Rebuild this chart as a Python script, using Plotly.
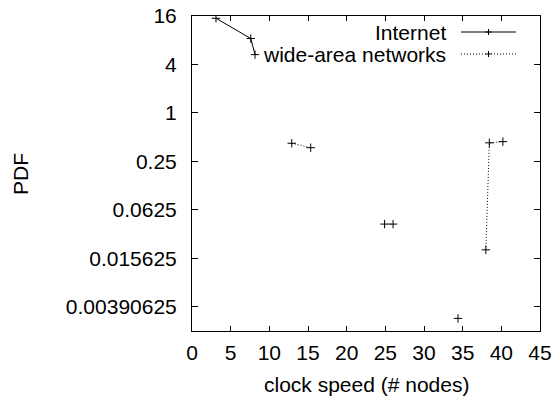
import plotly.graph_objects as go
import math

# Data
internet_x = [3.1, 7.6, 8.15]
internet_y = [15.0, 8.4, 5.3]

wan_x = [12.9, 15.35, None, 24.9, 26.0, None, 34.4, None, 38.0, 38.45, 40.2]
wan_y = [0.42, 0.37, None, 0.0416, 0.0416, None, 0.0028, None, 0.0199, 0.425, 0.44]

y_tickvals = [16, 4, 1, 0.25, 0.0625, 0.015625, 0.00390625]
y_ticktext = ["16", "4", "1", "0.25", "0.0625", "0.015625", "0.00390625"]
x_tickvals = [0, 5, 10, 15, 20, 25, 30, 35, 40, 45]

series_names = ["Internet", "wide-area networks"]
x_title = "clock speed (# nodes)"
y_title = "PDF"

FONT = "Liberation Sans, Arial, Helvetica, sans-serif"
FS = 21

fig = go.Figure()
fig.add_trace(go.Scatter(
    x=internet_x, y=internet_y, mode="lines+markers", name=series_names[0],
    line=dict(color="black", width=1),
    marker=dict(symbol="cross-thin", size=6, line=dict(color="black", width=1)),
    showlegend=False,
))
fig.add_trace(go.Scatter(
    x=wan_x, y=wan_y, mode="lines+markers", name=series_names[1],
    line=dict(color="black", width=1, dash="1px,2px"),
    marker=dict(symbol="cross-thin", size=6, line=dict(color="black", width=1)),
    connectgaps=False, showlegend=False,
))

L, R, T, B = 192, 14, 16, 67
W, H = 554, 398
pw, ph = W - L - R, H - T - B

def px_x(p):
    return (p - L) / pw

def px_y(p):
    return (H - B - p) / ph

# custom gnuplot-style legend
legend_rows = [(32, "solid"), (54, "1px,2px")]
shapes = []
annotations = []
for (ypx, dash), name in zip(legend_rows, series_names):
    yy = px_y(ypx)
    shapes.append(dict(type="line", xref="paper", yref="paper",
                       x0=px_x(461), x1=px_x(516), y0=yy, y1=yy,
                       line=dict(color="black", width=1, dash=dash)))
    shapes.append(dict(type="line", xref="paper", yref="paper",
                       x0=px_x(488.5), x1=px_x(488.5), y0=px_y(ypx - 3), y1=px_y(ypx + 3),
                       line=dict(color="black", width=1)))
    shapes.append(dict(type="line", xref="paper", yref="paper",
                       x0=px_x(485.5), x1=px_x(491.5), y0=yy, y1=yy,
                       line=dict(color="black", width=1)))
    annotations.append(dict(xref="paper", yref="paper", x=px_x(448), y=yy,
                            xanchor="right", yanchor="middle", text=name,
                            showarrow=False, font=dict(family=FONT, size=FS, color="black")))

annotations.append(dict(xref="paper", yref="paper", x=px_x(366), y=px_y(384),
                        xanchor="center", yanchor="middle", text=x_title,
                        showarrow=False, font=dict(family=FONT, size=FS, color="black")))
annotations.append(dict(xref="paper", yref="paper", x=px_x(20), y=px_y(174),
                        xanchor="center", yanchor="middle", text=y_title, textangle=-90,
                        showarrow=False, font=dict(family=FONT, size=FS, color="black")))

fig.update_layout(
    width=W, height=H,
    margin=dict(l=L, r=R, t=T, b=B, pad=0, autoexpand=False),
    paper_bgcolor="white", plot_bgcolor="white",
    font=dict(family=FONT, size=FS, color="black"),
    shapes=shapes, annotations=annotations,
    xaxis=dict(range=[0, 45], tickvals=x_tickvals, ticks="inside", ticklen=5,
               tickcolor="black", showline=True, linecolor="black", linewidth=1,
               mirror="ticks", showgrid=False, zeroline=False, automargin=False,
               ticklabelstandoff=3),
    yaxis=dict(type="log", range=[math.log10(2 ** -9), math.log10(16)],
               tickvals=y_tickvals, ticktext=y_ticktext, ticks="inside", ticklen=6,
               tickcolor="black", showline=True, linecolor="black", linewidth=1,
               mirror="ticks", showgrid=False, zeroline=False, automargin=False,
               ticklabelstandoff=10),
)

fig.write_html("out.html")
